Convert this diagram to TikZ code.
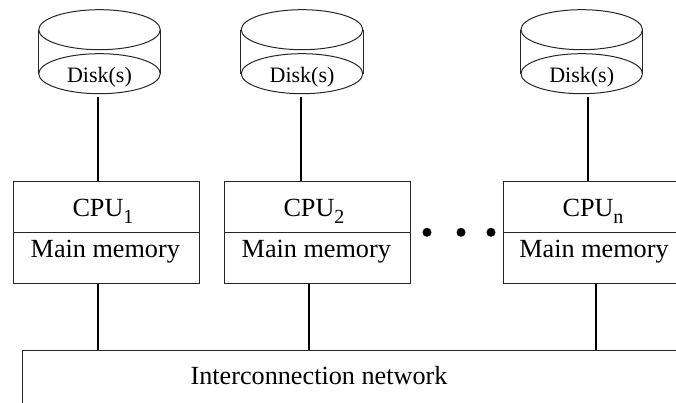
\documentclass[tikz,border=0pt]{standalone}
\usepackage{fontspec}
\setmainfont{Liberation Serif}
\usetikzlibrary{shapes.geometric}
\newcommand{\sbs}[1]{\raisebox{-7pt}{\fontsize{20}{20}\selectfont #1}}
\tikzset{
  x=1pt,y=-1pt,
  ln/.style={draw=black!85,line width=1pt},
  conn/.style={draw=black,line width=1.3pt},
  cpart/.style={ln,rectangle,inner sep=0,minimum width=186pt,minimum height=50.75pt,anchor=north west},
  disktop/.style={ln,ellipse,inner sep=0,minimum width=121.5pt,minimum height=40pt},
  txt/.style={inner sep=0,anchor=base,font=\fontsize{26.2}{26}\selectfont},
  dtxt/.style={inner sep=0,anchor=base,font=\fontsize{22}{22}\selectfont},
  dot/.style={circle,fill=black,inner sep=0,minimum size=9pt}
}
\newcommand{\diskat}[2]{%
  \node[disktop] (#2t) at (#1,29.7) {};
  \node[disktop] (#2b) at (#1,73.7) {};
  \draw[ln] (#2t.west) -- (#2b.west) (#2t.east) -- (#2b.east);
  \node[dtxt] (#2l) at (#1,82.7) {Disk(s)};
}
\begin{document}
\begin{tikzpicture}
\useasboundingbox (0,0) rectangle (676,403);
\clip (0,0) rectangle (676,403);
\diskat{99.5}{a}
\diskat{302}{b}
\diskat{581.7}{c}
% CPU boxes
\node[cpart] (c1) at (13.2,181.2) {};
\node[cpart] (m1) at (13.2,232) {};
\node[cpart,minimum width=186pt] (c2) at (224.4,181.2) {};
\node[cpart,minimum width=186pt] (m2) at (224.4,232) {};
\node[cpart,minimum width=200pt] (c3) at (503.2,181.2) {};
\node[cpart,minimum width=200pt] (m3) at (503.2,232) {};
\node[txt] (cl1) at (103,216) {CPU\sbs{1}};
\node[txt] (ml1) at (105.3,257.7) {Main memory};
\node[txt] (cl2) at (314,216) {CPU\sbs{2}};
\node[txt] (ml2) at (316.3,257.7) {Main memory};
\node[txt] (cl3) at (593,216) {CPU\sbs{n}};
\node[txt] (ml3) at (594,257.7) {Main memory};
% network
\node[ln,rectangle,inner sep=0,minimum width=700pt,minimum height=100pt,anchor=north west] (net) at (22,350.4) {};
\node[txt] (netl) at (319,384) {Interconnection network};
% dots
\node[dot] (d1) at (427,232.3) {};
\node[dot] (d2) at (461,232.3) {};
\node[dot] (d3) at (491,232.3) {};
% connectors
\coordinate (s1) at (98,97.5);
\coordinate (s2) at (301,97.5);
\coordinate (s3) at (588,97.5);
\draw[conn] (s1) -- (s1 |- c1.north);
\draw[conn] (s2) -- (s2 |- c2.north);
\draw[conn] (s3) -- (s3 |- c3.north);
\coordinate (n1) at (98,300);
\coordinate (n2) at (309,300);
\coordinate (n3) at (596,300);
\draw[conn] (n1 |- m1.south) -- (n1 |- net.north);
\draw[conn] (n2 |- m2.south) -- (n2 |- net.north);
\draw[conn] (n3 |- m3.south) -- (n3 |- net.north);
\end{tikzpicture}
\end{document}
